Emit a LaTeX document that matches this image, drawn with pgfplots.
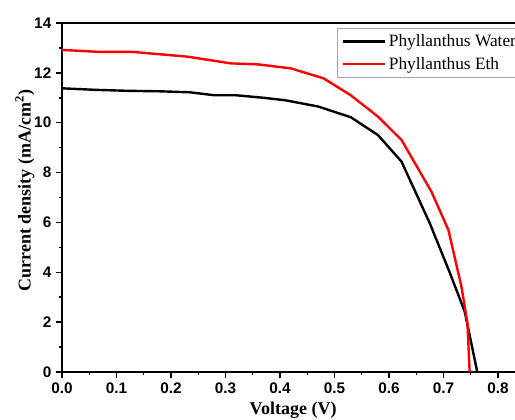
\documentclass[border=0pt]{standalone}
\usepackage{fontspec}
\setmainfont{Liberation Serif}
\newfontfamily\tickfont{Liberation Sans}
\usepackage{pgfplots}
\usetikzlibrary{calc}
\pgfplotsset{compat=1.18}
\begin{document}
\begin{tikzpicture}
\begin{axis}[
  name=ax,
  scale only axis,
  width=359.7pt, height=261.75pt,
  xmin=0, xmax=0.88, ymin=0, ymax=14,
  xtick={0,0.1,...,0.81}, ytick={0,2,...,14},
  minor x tick num=1, minor y tick num=1,
  tick pos=left,
  tick align=outside,
  major tick length=4.5pt, minor tick length=2.5pt,
  every tick/.style={black, line width=1.1pt},
  axis line style={line width=1.5pt},
  /pgf/number format/assume math mode=true,
  xticklabel style={font=\tickfont\bfseries\fontsize{11.5}{12}\selectfont, /pgf/number format/fixed, /pgf/number format/fixed zerofill, /pgf/number format/precision=1},
  yticklabel style={font=\tickfont\bfseries\fontsize{11.5}{12}\selectfont},
  xlabel={\textbf{Voltage (V)}},
  ylabel={\textbf{Current density (mA/cm\textsuperscript{2})}},
  xlabel style={font=\fontsize{13.5}{16}\selectfont, at={(axis description cs:0.482,0)}, anchor=center, yshift=-28.5pt},
  ylabel style={font=\fontsize{13.5}{16}\selectfont, at={(axis description cs:-0.0772,0.52)}, anchor=center},
  legend cell align=left,
  legend style={at={(axis cs:0.5046,13.8)}, anchor=north west, draw=gray!70, line width=0.6pt, font=\fontsize{13}{15}\selectfont, row sep=2.5pt, inner xsep=3.5pt, inner ysep=2.5pt},
  legend image code/.code={\draw[#1] (0,0) -- (1.1cm,0);},
]
\addplot[black, line width=1.8pt] coordinates {
(0,11.38) (0.06,11.32) (0.12,11.28) (0.18,11.26) (0.235,11.22) (0.28,11.10) (0.32,11.10) (0.37,11.00) (0.41,10.90) (0.47,10.65) (0.53,10.22) (0.58,9.50) (0.623,8.44) (0.675,5.96) (0.712,3.96) (0.739,2.42) (0.762,0)
};
\addlegendentry{Phyllanthus Water}
\addplot[red, line width=1.8pt] coordinates {
(0,12.92) (0.07,12.84) (0.13,12.84) (0.23,12.65) (0.31,12.38) (0.36,12.34) (0.42,12.18) (0.48,11.78) (0.53,11.10) (0.58,10.24) (0.623,9.31) (0.678,7.23) (0.709,5.70) (0.733,3.42) (0.744,1.95) (0.748,0)
};
\addlegendentry{Phyllanthus Eth}
\end{axis}
\pgfresetboundingbox
\useasboundingbox ($(ax.south west)+(-46.5pt,-35.25pt)$) rectangle ($(ax.south west)+(339.75pt,279pt)$);
\end{tikzpicture}
\end{document}
